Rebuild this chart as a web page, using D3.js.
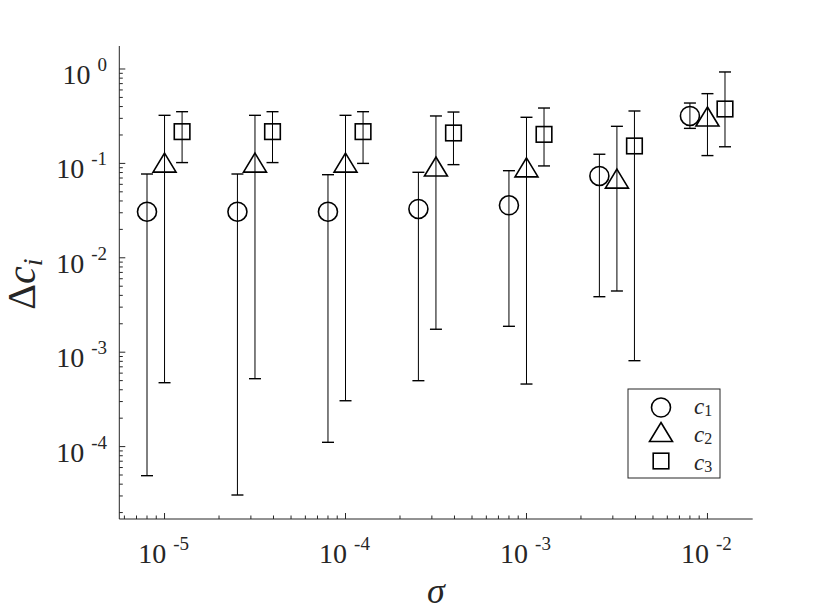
<!DOCTYPE html>
<html>
<head>
<meta charset="UTF-8" />
<script src="https://d3js.org/d3.v7.min.js"></script>
<style>
  body { margin: 0; background: #fff; }
</style>
</head>
<body>
<div id="chart"></div>
<script>
// noise levels (x) and the three coefficient errors with their ranges
const sigmas = [1e-5, 3.16e-5, 1e-4, 3.16e-4, 1e-3, 3.16e-3, 1e-2];

const c1 = [0.0308, 0.0308, 0.0308, 0.0329, 0.036, 0.0736, 0.318];
const c1Hi = [0.0772, 0.0772, 0.0759, 0.0805, 0.0837, 0.125, 0.436];
const c1Lo = [4.92e-5, 3.07e-5, 1.11e-4, 4.99e-4, 1.88e-3, 3.87e-3, 0.235];

const c2 = [0.102, 0.102, 0.102, 0.0927, 0.0908, 0.0689, 0.314];
const c2Hi = [0.323, 0.323, 0.323, 0.318, 0.308, 0.247, 0.548];
const c2Lo = [4.75e-4, 5.24e-4, 3.06e-4, 1.75e-3, 4.6e-4, 4.45e-3, 0.121];

const c3 = [0.217, 0.217, 0.217, 0.21, 0.203, 0.153, 0.377];
const c3Hi = [0.353, 0.353, 0.353, 0.35, 0.386, 0.359, 0.93];
const c3Lo = [0.102, 0.102, 0.1, 0.097, 0.094, 8.13e-4, 0.15];

const seriesNames = ["1", "2", "3"];
const xTickExps = [-5, -4, -3, -2];
const yTickExps = [0, -1, -2, -3, -4];

const FONT = "'Liberation Serif', 'Times New Roman', Times, 'DejaVu Serif', serif";
const W = 830, H = 616;
const svg = d3.select("#chart").append("svg").attr("width", W).attr("height", H)
  .attr("font-family", FONT);

const x = d3.scaleLog().domain([Math.pow(10, -5.25), Math.pow(10, -1.75)]).range([119.3, 752.7]);
const y = d3.scaleLog().domain([Math.pow(10, -4.767), Math.pow(10, 0.2436)]).range([519, 46]);

const axisColor = "#262626";

// axes lines (left + bottom only)
svg.append("line").attr("x1", x.range()[0]).attr("x2", x.range()[1])
  .attr("y1", 519).attr("y2", 519).attr("stroke", axisColor).attr("stroke-width", 1);
svg.append("line").attr("x1", 119.3).attr("x2", 119.3)
  .attr("y1", 46).attr("y2", 519).attr("stroke", axisColor).attr("stroke-width", 1);

// ticks, inward, major + minor
function logTicks(scale) {
  const [a, b] = scale.domain();
  const out = [];
  for (let e = Math.floor(Math.log10(a)); e <= Math.ceil(Math.log10(b)); e++) {
    for (let m = 1; m <= 9; m++) {
      const v = m * Math.pow(10, e);
      if (v >= a && v <= b) out.push({ v, major: m === 1 });
    }
  }
  return out;
}

svg.append("g").selectAll("line").data(logTicks(x)).join("line")
  .attr("x1", d => x(d.v)).attr("x2", d => x(d.v))
  .attr("y1", 519).attr("y2", d => 519 - (d.major ? 6 : 3.5))
  .attr("stroke", axisColor).attr("stroke-width", 1);

svg.append("g").selectAll("line").data(logTicks(y)).join("line")
  .attr("y1", d => y(d.v)).attr("y2", d => y(d.v))
  .attr("x1", 119.3).attr("x2", d => 119.3 + (d.major ? 6 : 3.5))
  .attr("stroke", axisColor).attr("stroke-width", 1);

// tick labels 10^k
const xl = svg.append("g").selectAll("text").data(xTickExps).join("text")
  .attr("x", d => x(Math.pow(10, d)) - 1).attr("y", 562.7)
  .attr("text-anchor", "middle").attr("font-size", 28).attr("fill", axisColor);
xl.append("tspan").text("10");
xl.append("tspan").attr("dx", 7).attr("dy", -13).attr("font-size", 19).text(d => String(d));

const yl = svg.append("g").selectAll("text").data(yTickExps).join("text")
  .attr("x", 107).attr("y", d => y(Math.pow(10, d)) + 15)
  .attr("text-anchor", "end").attr("font-size", 28).attr("fill", axisColor);
yl.append("tspan").text("10");
yl.append("tspan").attr("dx", 7).attr("dy", -13).attr("font-size", 19).text(d => String(d));

// axis titles
svg.append("text").attr("x", 436).attr("y", 603).attr("text-anchor", "middle")
  .attr("font-size", 36).attr("font-style", "italic").attr("fill", axisColor).text("σ");

const yt = svg.append("text").attr("transform", "translate(35,284) rotate(-90)")
  .attr("text-anchor", "middle").attr("font-size", 40).attr("fill", axisColor);
yt.append("tspan").text("Δ");
yt.append("tspan").attr("font-style", "italic").text("c");
yt.append("tspan").attr("font-style", "italic").attr("font-size", 28).attr("dy", 7).text("i");

// markers
const triPath = (w, h) => `M0,${-h / 2}L${w / 2},${h / 2}L${-w / 2},${h / 2}Z`;
function drawMarker(g, kind) {
  if (kind === 0) g.append("circle").attr("r", 9.5);
  else if (kind === 1) g.append("path").attr("d", triPath(23, 19));
  else g.append("rect").attr("x", -7.8).attr("y", -7.8).attr("width", 15.6).attr("height", 15.6);
  g.selectAll("*").attr("fill", "none").attr("stroke", "#000").attr("stroke-width", 1.6);
}

const series = [
  { vals: c1, hi: c1Hi, lo: c1Lo, shift: 0.8 },
  { vals: c2, hi: c2Hi, lo: c2Lo, shift: 1 },
  { vals: c3, hi: c3Hi, lo: c3Lo, shift: 1.25 }
];

const plot = svg.append("g");
series.forEach((s, k) => {
  const rows = sigmas.map((sg, i) => ({ xv: sg * s.shift, v: s.vals[i], hi: s.hi[i], lo: s.lo[i] }));
  const g = plot.append("g");
  // error bars
  g.selectAll(".stem").data(rows).join("line")
    .attr("x1", d => x(d.xv)).attr("x2", d => x(d.xv))
    .attr("y1", d => y(d.hi)).attr("y2", d => y(d.lo))
    .attr("stroke", "#000").attr("stroke-width", 1);
  ["hi", "lo"].forEach(key => {
    g.selectAll(".cap-" + key).data(rows).join("line")
      .attr("x1", d => x(d.xv) - 6).attr("x2", d => x(d.xv) + 6)
      .attr("y1", d => y(d[key])).attr("y2", d => y(d[key]))
      .attr("stroke", "#000").attr("stroke-width", 1.4);
  });
  g.selectAll(".mk").data(rows).join("g")
    .attr("transform", d => `translate(${x(d.xv)},${y(d.v)})`)
    .each(function () { drawMarker(d3.select(this), k); });
});

// legend
const lg = svg.append("g");
lg.append("rect").attr("x", 628).attr("y", 389).attr("width", 92).attr("height", 89)
  .attr("fill", "#fff").attr("stroke", axisColor).attr("stroke-width", 1);
const markY = [407.5, 432, 461];
const textY = [413.5, 442, 470];
seriesNames.forEach((name, k) => {
  const m = lg.append("g").attr("transform", `translate(661,${markY[k]})`);
  drawMarker(m, k);
  const t = lg.append("text").attr("x", 694).attr("y", textY[k]).attr("font-size", 23).attr("fill", axisColor);
  t.append("tspan").attr("font-style", "italic").text("c");
  t.append("tspan").attr("font-size", 16).attr("dy", 2).text(name);
});
</script>
</body>
</html>
